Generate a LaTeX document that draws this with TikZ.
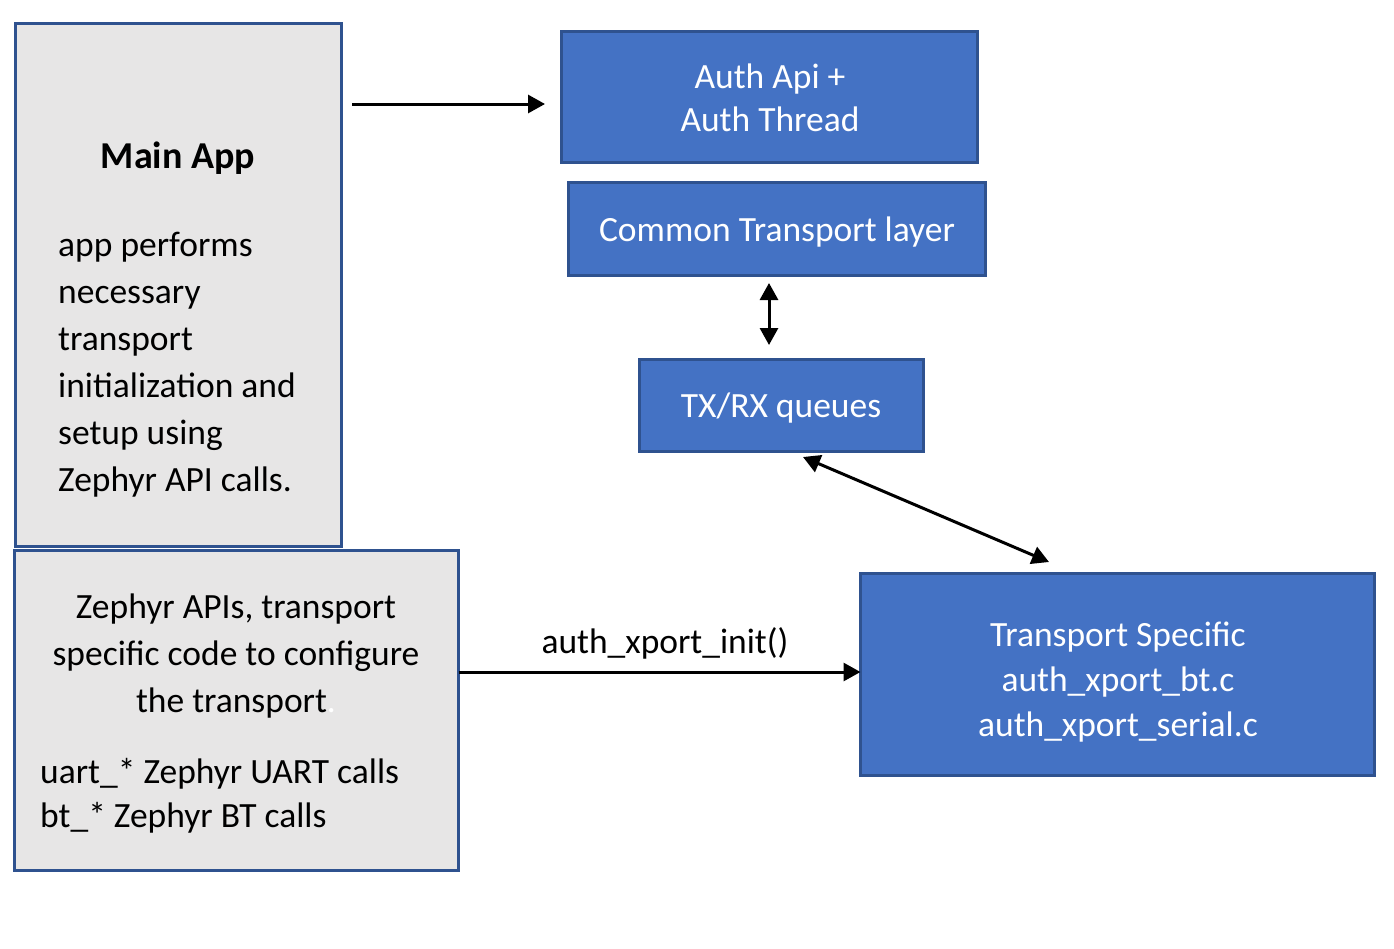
\documentclass[tikz,border=0pt]{standalone}
\usepackage{fontspec}
\setmainfont{Carlito}
\usetikzlibrary{arrows.meta,calc}
\definecolor{gfill}{HTML}{E7E6E6}
\definecolor{bfill}{HTML}{4472C4}
\definecolor{bline}{HTML}{2F528F}
\begin{document}
\begin{tikzpicture}[x=1pt,y=-1pt,
  graybox/.style={draw=bline,fill=gfill,line width=3.6pt,inner sep=0pt,outer sep=0pt},
  bluebox/.style={draw=bline,fill=bfill,line width=3.6pt,inner sep=0pt,outer sep=0pt},
  txt/.style={inner sep=0pt,font=\fontsize{35.5}{47}\selectfont},
  wtxt/.style={txt,text=white},
  arr/.style={line width=3pt,-{Triangle[length=17pt,width=18pt]}},
  darr/.style={line width=3pt,{Triangle[length=17pt,width=18pt]}-{Triangle[length=17pt,width=18pt]}}]
\useasboundingbox[fill=white] (0,0) rectangle (1394,948);
% boxes
\node[graybox,minimum width=326pt,minimum height=523pt] (main) at (178.5,285) {};
\node[graybox,minimum width=444pt,minimum height=320pt] (zeph) at (236.5,710.5) {};
\node[bluebox,minimum width=416pt,minimum height=131pt] (auth) at (769.5,97) {};
\node[bluebox,minimum width=417pt,minimum height=93pt] (common) at (777,229) {};
\node[bluebox,minimum width=284pt,minimum height=92pt] (txrx) at (781.5,405.5) {};
\node[bluebox,minimum width=514pt,minimum height=202pt] (ts) at (1117.5,674.5) {};
% texts (base anchor = baseline of the last line)
\node[txt,font=\fontsize{38}{46}\selectfont\bfseries,anchor=base] (maintitle) at (178,168) {Main App};
\node[txt,align=left,anchor=base west] (mainbody) at (58,491) {app performs\\necessary\\transport\\initialization and\\setup using\\Zephyr API calls.};
\node[txt,align=center,anchor=base] (zephtop) at (236,712) {Zephyr APIs, transport\\specific code to configure\\the transport{\color{white}.}};
\node[txt,font=\fontsize{35.5}{44}\selectfont,align=left,anchor=base west] (zephbot) at (40,827) {uart\_* Zephyr UART calls\\bt\_* Zephyr BT calls};
\node[wtxt,font=\fontsize{35.5}{43}\selectfont,align=center,anchor=base] (authtxt) at (770,131) {Auth Api +\\Auth Thread};
\node[wtxt,anchor=base] (commontxt) at (777,241) {Common Transport layer};
\node[wtxt,anchor=base] (txrxtxt) at (781,417) {TX/RX queues};
\node[wtxt,font=\fontsize{35.5}{45}\selectfont,align=center,anchor=base] (tstxt) at (1118,736) {Transport Specific\\auth\_xport\_bt.c\\auth\_xport\_serial.c};
% connectors
\draw[arr] ($(main.north east)+(10.5,80.5)$) -- ($(auth.west)+(-16.5,7)$);
\draw[darr] ($(common.south)+(-8,7.5)$) -- ($(txrx.north)+(-12.5,-14.5)$);
\draw[darr] ($(txrx.south)+(21.5,5.5)$) -- ($(ts.north)+(-68.5,-11.5)$);
\draw[arr] ($(zeph.east)+(0,-38.5)$) -- ($(ts.west)+(0,-2.5)$);
\node[txt,anchor=base] (initlbl) at (665,653) {auth\_xport\_init()};
\end{tikzpicture}
\end{document}
